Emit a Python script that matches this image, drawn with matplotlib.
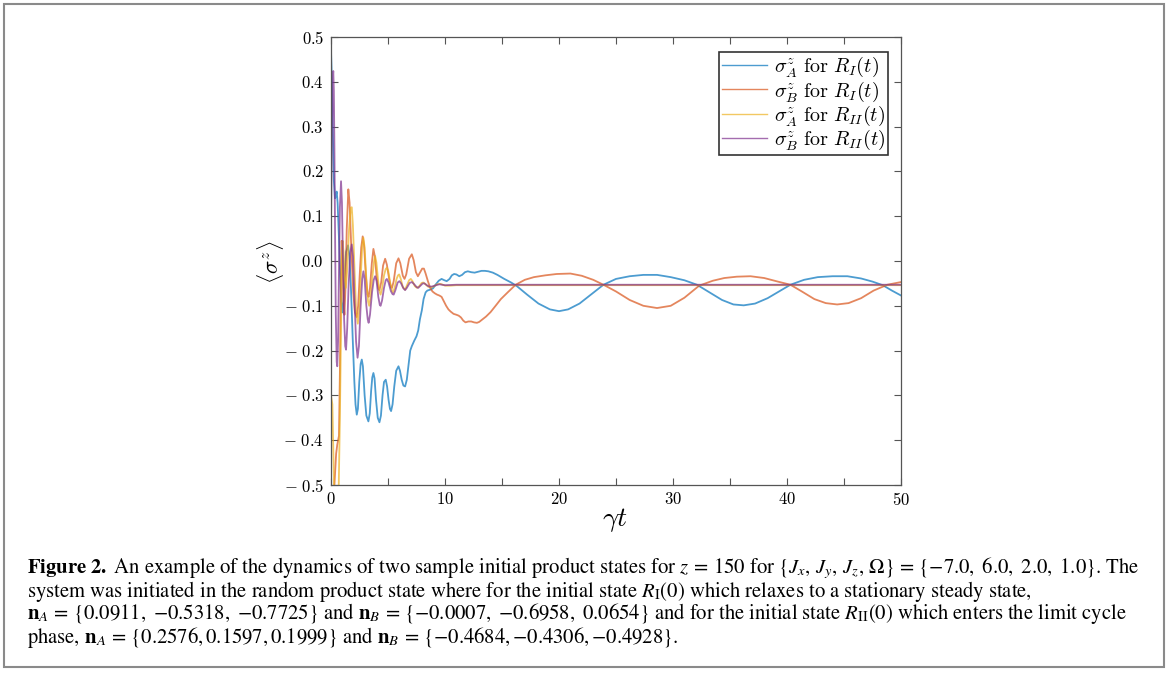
import numpy as np
import matplotlib
matplotlib.use("Agg")
import matplotlib.pyplot as plt
from matplotlib.font_manager import FontProperties
from matplotlib.patches import Rectangle

# time samples and <sigma^z> values for the two initial states
# sigma_A^z, state R_I
t_a1 = [0.0, 0.08, 0.15, 0.25, 0.35, 0.42, 0.5, 0.58, 0.7, 0.8, 0.9, 1.0, 1.1, 1.2, 1.32,
        1.5, 1.62, 1.75, 1.9, 2.05, 2.15, 2.26, 2.36, 2.48, 2.6, 2.7, 2.8, 2.95, 3.1, 3.28,
        3.4, 3.52, 3.62, 3.72, 3.82, 3.95, 4.1, 4.25, 4.38, 4.52, 4.65, 4.8, 4.92, 5.05,
        5.17, 5.27, 5.4, 5.55, 5.72, 5.92, 6.05, 6.2, 6.35, 6.5, 6.65, 6.82, 6.95, 7.09,
        7.3, 7.5, 7.65, 7.8, 7.97, 8.12, 8.3, 8.45, 8.7, 8.95, 9.2, 9.45, 9.7, 9.95, 10.15,
        10.4, 10.6, 10.8, 11.0, 11.25, 11.5, 11.75, 12.0, 12.3, 12.6, 12.9, 13.2, 13.5,
        13.8, 14.2, 14.6, 15.2, 15.8, 16.3, 17.2, 18.2, 19.2, 20.0, 20.8, 21.8, 22.8, 23.9,
        25.0, 26.2, 27.4, 28.6, 29.8, 31.0, 32.1, 33.2, 34.3, 35.3, 36.2, 37.2, 38.3, 39.3,
        40.3, 41.5, 42.7, 44.0, 45.3, 46.5, 47.5, 48.4, 49.2, 50.0]
sz_a1 = [0.47, 0.40, 0.30, 0.18, 0.14, 0.145, 0.155, 0.13, 0.05, -0.03, -0.09, -0.115,
         -0.09, -0.03, 0.02, 0.035, 0.01, -0.06, -0.17, -0.27, -0.32, -0.343, -0.33, -0.27,
         -0.23, -0.22, -0.235, -0.30, -0.345, -0.358, -0.34, -0.29, -0.26, -0.25, -0.262,
         -0.31, -0.35, -0.36, -0.345, -0.30, -0.27, -0.265, -0.28, -0.31, -0.33, -0.335,
         -0.32, -0.28, -0.245, -0.235, -0.245, -0.265, -0.278, -0.28, -0.265, -0.228, -0.2,
         -0.19, -0.178, -0.168, -0.155, -0.13, -0.11, -0.085, -0.07, -0.066, -0.064,
         -0.061, -0.052, -0.044, -0.04, -0.043, -0.045, -0.04, -0.032, -0.029, -0.03,
         -0.034, -0.031, -0.025, -0.023, -0.025, -0.026, -0.024, -0.022, -0.022, -0.023,
         -0.026, -0.031, -0.04, -0.048, -0.056, -0.075, -0.095, -0.108, -0.112, -0.108,
         -0.095, -0.075, -0.053, -0.04, -0.034, -0.031, -0.031, -0.036, -0.043, -0.053,
         -0.07, -0.087, -0.097, -0.099, -0.095, -0.083, -0.068, -0.053, -0.042, -0.036,
         -0.034, -0.034, -0.039, -0.046, -0.054, -0.066, -0.077]

# sigma_B^z, state R_I
t_b1 = [0.0, 0.3, 0.45, 0.55, 0.7, 0.78, 0.85, 0.94, 1.02, 1.1, 1.18, 1.27, 1.38, 1.52,
        1.63, 1.78, 1.95, 2.1, 2.25, 2.38, 2.52, 2.65, 2.78, 2.9, 3.05, 3.2, 3.3, 3.42,
        3.58, 3.72, 3.85, 4.0, 4.15, 4.25, 4.4, 4.57, 4.75, 4.9, 5.1, 5.25, 5.35, 5.5,
        5.72, 5.92, 6.08, 6.3, 6.45, 6.6, 6.85, 7.09, 7.25, 7.45, 7.62, 7.8, 8.0, 8.15,
        8.3, 8.5, 8.7, 8.9, 9.1, 9.3, 9.5, 9.7, 9.9, 10.1, 10.3, 10.5, 10.75, 11.0, 11.2,
        11.4, 11.6, 11.8, 12.05, 12.3, 12.55, 12.8, 13.0, 13.2, 13.6, 14.0, 14.5, 14.9,
        15.5, 16.2, 17.0, 17.8, 18.8, 19.8, 21.0, 22.0, 23.0, 23.9, 25.0, 26.2, 27.4,
        28.6, 29.8, 31.0, 32.3, 33.5, 34.5, 35.6, 36.8, 38.0, 39.2, 40.3, 41.3, 42.4,
        43.4, 44.4, 45.4, 46.5, 47.6, 48.8, 50.0]
sz_b1 = [-0.56, -0.5, -0.43, -0.41, -0.39, -0.25, -0.08, 0.045, 0.0, -0.09, -0.12, -0.06,
         0.07, 0.16, 0.13, 0.03, -0.07, -0.115, -0.125, -0.1, -0.03, 0.03, 0.055, 0.035,
         -0.03, -0.075, -0.08, -0.06, -0.005, 0.027, 0.01, -0.035, -0.062, -0.065, -0.048,
         -0.01, 0.005, -0.008, -0.04, -0.058, -0.06, -0.045, -0.005, 0.006, -0.005,
         -0.033, -0.04, -0.03, 0.005, 0.015, 0.002, -0.025, -0.034, -0.026, -0.017,
         -0.017, -0.028, -0.045, -0.06, -0.068, -0.072, -0.075, -0.077, -0.08, -0.09,
         -0.1, -0.108, -0.113, -0.118, -0.12, -0.122, -0.126, -0.133, -0.137, -0.135,
         -0.135, -0.137, -0.138, -0.136, -0.132, -0.124, -0.114, -0.098, -0.085, -0.07,
         -0.053, -0.042, -0.036, -0.032, -0.029, -0.028, -0.033, -0.042, -0.053, -0.068,
         -0.087, -0.1, -0.105, -0.1, -0.082, -0.055, -0.044, -0.038, -0.035, -0.034,
         -0.038, -0.046, -0.053, -0.068, -0.085, -0.094, -0.097, -0.094, -0.083, -0.066,
         -0.053, -0.047]

# sigma_A^z, state R_II
t_a2 = [0.0, 0.12, 0.2, 0.28, 0.3, 0.6, 0.68, 0.78, 0.88, 0.95, 1.02, 1.1, 1.2, 1.3, 1.42,
        1.58, 1.72, 1.82, 1.92, 2.05, 2.2, 2.35, 2.48, 2.62, 2.74, 2.84, 2.95, 3.1, 3.25,
        3.35, 3.48, 3.65, 3.78, 3.87, 3.98, 4.12, 4.25, 4.35, 4.48, 4.65, 4.8, 4.9, 5.02,
        5.2, 5.35, 5.45, 5.58, 5.75, 5.88, 5.98, 6.12, 6.3, 6.5, 6.65, 6.85, 7.0, 7.15,
        7.35, 7.55, 7.75, 7.95, 8.1, 8.3, 8.5, 8.75, 9.0, 9.3, 9.6, 10.0, 10.5, 11.0, 50.0]
sz_a2 = [-0.30, -0.32, -0.42, -0.52, -0.56, -0.56, -0.5, -0.35, -0.15, 0.0, 0.045, 0.02,
         -0.04, -0.06, -0.02, 0.07, 0.118, 0.12, 0.08, -0.01, -0.11, -0.14, -0.11, -0.03,
         0.035, 0.052, 0.03, -0.04, -0.09, -0.1, -0.08, -0.03, 0.0, 0.011, -0.003, -0.04,
         -0.068, -0.075, -0.062, -0.032, -0.018, -0.015, -0.022, -0.05, -0.066, -0.07,
         -0.06, -0.04, -0.032, -0.03, -0.04, -0.058, -0.064, -0.055, -0.043, -0.04,
         -0.045, -0.056, -0.06, -0.056, -0.049, -0.048, -0.052, -0.057, -0.059, -0.057,
         -0.052, -0.051, -0.055, -0.055, -0.054, -0.054]

# sigma_B^z, state R_II
t_b2 = [0.0, 0.05, 0.1, 0.16, 0.2, 0.25, 0.3, 0.36, 0.42, 0.5, 0.55, 0.62, 0.7, 0.78, 0.88,
        0.96, 1.05, 1.15, 1.25, 1.32, 1.42, 1.55, 1.7, 1.82, 1.93, 2.05, 2.2, 2.33, 2.45,
        2.6, 2.74, 2.84, 2.95, 3.1, 3.22, 3.3, 3.42, 3.6, 3.75, 3.87, 4.0, 4.15, 4.28, 4.35,
        4.48, 4.65, 4.8, 4.9, 5.05, 5.25, 5.4, 5.5, 5.65, 5.85, 6.0, 6.15, 6.35, 6.5, 6.65,
        6.9, 7.1, 7.3, 7.5, 7.65, 7.85, 8.05, 8.2, 8.4, 8.6, 8.85, 9.1, 9.5, 10.0, 11.0,
        50.0]
sz_b2 = [0.08, 0.2, 0.32, 0.41, 0.424, 0.38, 0.25, 0.05, -0.12, -0.225, -0.235, -0.18,
         -0.02, 0.12, 0.178, 0.13, 0.0, -0.13, -0.19, -0.198, -0.15, -0.05, 0.02, 0.037,
         0.01, -0.08, -0.18, -0.216, -0.19, -0.1, -0.04, -0.023, -0.04, -0.1, -0.13, -0.138,
         -0.12, -0.07, -0.042, -0.034, -0.045, -0.08, -0.098, -0.1, -0.088, -0.06, -0.043,
         -0.04, -0.048, -0.067, -0.074, -0.075, -0.065, -0.048, -0.045, -0.05, -0.061,
         -0.065, -0.06, -0.049, -0.047, -0.052, -0.058, -0.06, -0.055, -0.05, -0.05, -0.054,
         -0.057, -0.057, -0.055, -0.052, -0.054, -0.053, -0.053]

labels = [r"$\sigma^z_A\ \mathrm{for}\ R_I(t)$",
          r"$\sigma^z_B\ \mathrm{for}\ R_I(t)$",
          r"$\sigma^z_A\ \mathrm{for}\ R_{II}(t)$",
          r"$\sigma^z_B\ \mathrm{for}\ R_{II}(t)$"]
colors = ["#0072BD", "#D95319", "#EDB120", "#7E2F8E"]

x_ticks = [0, 5, 10, 15, 20, 25, 30, 35, 40, 45, 50]
y_ticks = [0.5, 0.4, 0.3, 0.2, 0.1, 0.0, -0.1, -0.2, -0.3, -0.4, -0.5]

caption = [
    r"$\mathbf{Figure\ 2.}$ An example of the dynamics of two sample initial product states for "
    r"$z\,=\,150$ for $\{J_x,\,J_y,\,J_z,\,\Omega\}\,=\,\{{-7.0},\ 6.0,\ 2.0,\ 1.0\}$. The",
    r"system was initiated in the random product state where for the initial state "
    r"$R_{\mathrm{I}}(0)$ which relaxes to a stationary steady state,",
    r"$\mathbf{n}_A\,=\,\{0.0911,\ {-0.5318},\ {-0.7725}\}$ and $\mathbf{n}_B\,=\,"
    r"\{{-0.0007},\ {-0.6958},\ 0.0654\}$ and for the initial state $R_{\mathrm{II}}(0)$ "
    r"which enters the limit cycle",
    r"phase, $\mathbf{n}_A\,=\,\{0.2576, 0.1597, 0.1999\}$ and "
    r"$\mathbf{n}_B\,=\,\{{-0.4684}, {-0.4306}, {-0.4928}\}$.",
]


def tick_text(v, fmt):
    s = fmt.format(abs(v))
    if v < 0:
        return r"$-\ " + s + "$"
    return "$" + s + "$"


def main():
    plt.rcParams["mathtext.fontset"] = "stix"
    plt.rcParams["font.family"] = "STIXGeneral"

    fig = plt.figure(figsize=(11.68, 6.77), dpi=100)
    ax = fig.add_axes([331 / 1168, 1 - 485 / 677, 570 / 1168, 448 / 677])

    series = [(t_a1, sz_a1), (t_b1, sz_b1), (t_a2, sz_a2), (t_b2, sz_b2)]
    for (t, s), c, lab in zip(series, colors, labels):
        ax.plot(t, s, color=c, alpha=0.7, lw=1.3, label=lab, solid_joinstyle="round")

    ax.set_xlim(0, 50)
    ax.set_ylim(-0.5, 0.5)

    # ticks on all four sides, labels only on every other x tick
    ax.set_xticks(x_ticks)
    ax.set_xticklabels(["$%d$" % v if v % 10 == 0 else "" for v in x_ticks],
                       math_fontfamily="cm", fontsize=12)
    ax.set_yticks(y_ticks)
    ax.set_yticklabels([tick_text(v, "{:.1f}") for v in y_ticks],
                       math_fontfamily="cm", fontsize=12)
    ax.tick_params(direction="in", length=5, width=0.8, color="#555555",
                   top=True, right=True, pad=5)
    for sp in ax.spines.values():
        sp.set_color("#555555")
        sp.set_linewidth(0.9)

    fig.text(615 / 1168, 1 - 520 / 677, r"$\gamma t$", fontsize=20,
             math_fontfamily="cm", ha="center", va="center")
    fig.text(270 / 1168, 1 - 262 / 677, r"$\langle\sigma^z\rangle$", fontsize=16,
             math_fontfamily="cm", ha="center", va="center", rotation=90)

    leg = ax.legend(loc="upper right", bbox_to_anchor=(0.977, 0.9665),
                    prop=FontProperties(size=14.5, math_fontfamily="cm"),
                    frameon=True, fancybox=False, handlelength=2.2,
                    borderpad=0.15, labelspacing=0.0, handletextpad=0.35,
                    borderaxespad=0)
    leg.get_frame().set_edgecolor("black")
    leg.get_frame().set_linewidth(1.2)
    for h in leg.get_lines():
        h.set_linewidth(1.0)

    # caption lines
    ys = [568, 591, 614, 637]
    for line, y in zip(caption, ys):
        fig.text(27 / 1168, 1 - y / 677, line, fontsize=14.9, ha="left", va="center")

    # outer frame
    fig.patches.append(Rectangle((4 / 1168, 1 - 667 / 677), 1160 / 1168, 663 / 677,
                                 transform=fig.transFigure, fill=False,
                                 edgecolor="#8a8a8a", lw=1.5))

    fig.savefig("out.png", dpi=100)


if __name__ == "__main__":
    main()
